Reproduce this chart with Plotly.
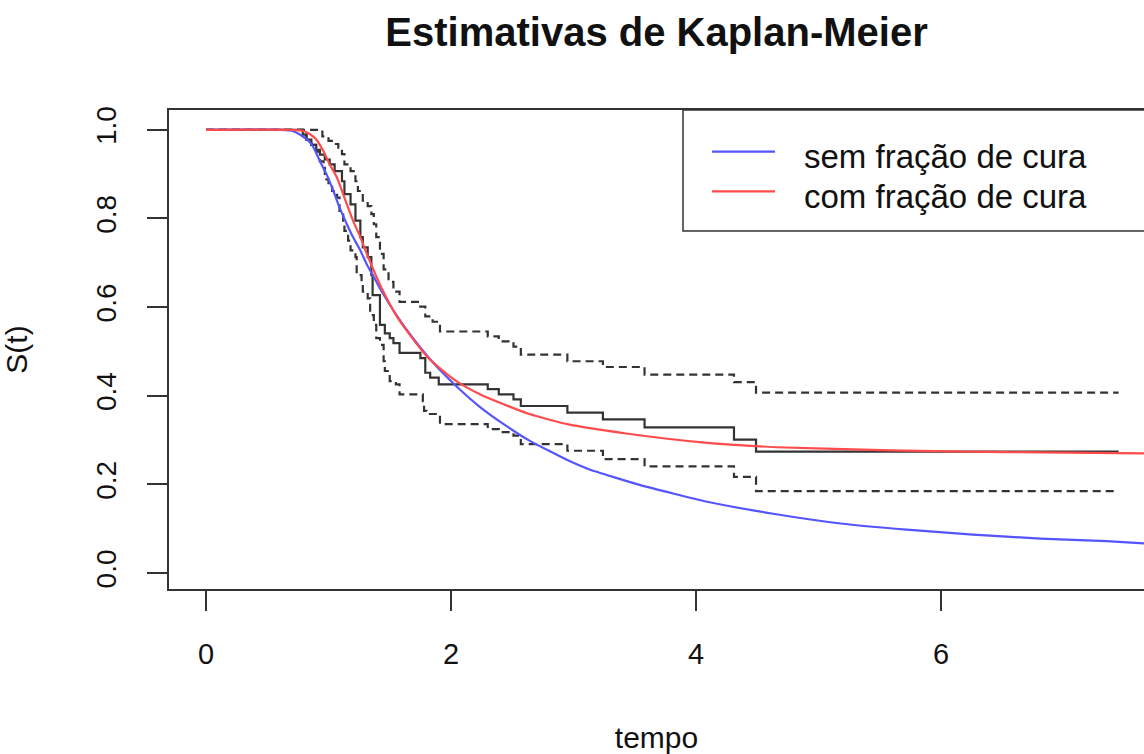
import plotly.graph_objects as go

# ---------------- data ----------------
km_time = [0, 0.79, 0.82, 0.86, 0.90, 0.93, 0.97, 1.01, 1.05, 1.11, 1.13, 1.18, 1.22, 1.26, 1.28,
           1.32, 1.35, 1.36, 1.42, 1.46, 1.50, 1.53, 1.58, 1.75, 1.79, 1.83, 1.90, 2.30, 2.39,
           2.51, 2.57, 2.95, 3.24, 3.58, 4.31, 4.49, 7.45]
km_surv = [1.0, 0.989, 0.978, 0.966, 0.955, 0.944, 0.933, 0.922, 0.907, 0.884, 0.855, 0.832, 0.795,
           0.758, 0.735, 0.713, 0.672, 0.627, 0.560, 0.541, 0.530, 0.519, 0.497, 0.485, 0.452,
           0.441, 0.426, 0.415, 0.403, 0.392, 0.377, 0.362, 0.347, 0.329, 0.301, 0.274, 0.274]

upper_time = [0, 0.95, 1.00, 1.04, 1.08, 1.11, 1.13, 1.18, 1.22, 1.24, 1.28, 1.32, 1.35, 1.37,
              1.39, 1.42, 1.45, 1.49, 1.53, 1.58, 1.73, 1.79, 1.85, 1.91, 2.30, 2.39, 2.51, 2.57,
              2.95, 3.24, 3.58, 4.31, 4.49, 7.45]
upper_surv = [1.0, 0.985, 0.975, 0.968, 0.960, 0.945, 0.922, 0.907, 0.884, 0.862, 0.840, 0.828,
              0.810, 0.787, 0.758, 0.720, 0.685, 0.657, 0.635, 0.612, 0.601, 0.579, 0.567, 0.545,
              0.534, 0.523, 0.511, 0.493, 0.478, 0.465, 0.448, 0.431, 0.407, 0.407]

lower_time = [0, 0.79, 0.82, 0.86, 0.90, 0.93, 0.96, 0.97, 1.00, 1.03, 1.07, 1.09, 1.12, 1.13,
              1.16, 1.18, 1.22, 1.23, 1.27, 1.28, 1.32, 1.34, 1.37, 1.39, 1.42, 1.45, 1.46, 1.50,
              1.55, 1.58, 1.77, 1.78, 1.80, 1.91, 2.30, 2.39, 2.51, 2.57, 2.95, 3.24, 3.58, 4.31,
              4.49, 7.45]
lower_surv = [1.0, 0.989, 0.978, 0.966, 0.951, 0.929, 0.914, 0.888, 0.877, 0.862, 0.847, 0.817,
              0.795, 0.772, 0.750, 0.728, 0.713, 0.672, 0.657, 0.635, 0.620, 0.582, 0.560, 0.530,
              0.515, 0.478, 0.456, 0.433, 0.426, 0.403, 0.388, 0.366, 0.359, 0.336, 0.325, 0.318,
              0.310, 0.291, 0.276, 0.257, 0.241, 0.217, 0.185, 0.185]

blue_time = [0, 0.62, 0.70, 0.77, 0.84, 0.88, 0.93, 0.985, 1.04, 1.09, 1.15, 1.20, 1.26, 1.31,
             1.37, 1.42, 1.56, 1.69, 1.80, 1.91, 2.05, 2.24, 2.43, 2.64, 2.95, 3.12, 3.54, 4.09,
             4.63, 5.18, 5.72, 6.26, 6.81, 7.35, 7.66]
blue_surv = [1.0, 1.0, 0.998, 0.989, 0.974, 0.959, 0.929, 0.899, 0.862, 0.825, 0.787, 0.758,
             0.728, 0.698, 0.668, 0.642, 0.580, 0.530, 0.492, 0.458, 0.420, 0.374, 0.336, 0.299,
             0.255, 0.235, 0.199, 0.161, 0.134, 0.112, 0.098, 0.087, 0.078, 0.072, 0.067]

red_time = [0, 0.70, 0.79, 0.85, 0.90, 0.96, 1.01, 1.07, 1.11, 1.15, 1.20, 1.26, 1.31, 1.37,
            1.43, 1.56, 1.69, 1.80, 1.91, 2.05, 2.24, 2.43, 2.64, 2.95, 3.43, 4.05, 4.66, 5.59,
            6.52, 7.66]
red_surv = [1.0, 1.0, 0.998, 0.99, 0.978, 0.951, 0.922, 0.892, 0.862, 0.832, 0.795, 0.758, 0.722,
            0.682, 0.645, 0.578, 0.528, 0.490, 0.462, 0.432, 0.403, 0.381, 0.359, 0.336, 0.315,
            0.295, 0.284, 0.277, 0.273, 0.270]

legend_labels = ["sem fração de cura", "com fração de cura"]
x_ticks = [0, 2, 4, 6]
y_ticks = [0.0, 0.2, 0.4, 0.6, 0.8, 1.0]

# ---------------- styles ----------------
BLUE = "rgb(85,85,255)"
RED = "rgb(255,75,75)"
DARK = "#333333"
TXT = "#111111"
FONT = "Liberation Sans, Arial, sans-serif"

W, H = 1144, 754
ML, MT = 169, 110
MB = H - 593
MR = 0

fig = go.Figure()
fig.add_trace(go.Scatter(x=km_time, y=km_surv, mode="lines", line=dict(shape="hv", color=DARK, width=2.2),
                         showlegend=False, hoverinfo="skip"))
fig.add_trace(go.Scatter(x=upper_time, y=upper_surv, mode="lines",
                         line=dict(shape="hv", color=DARK, width=2.2, dash="8px,5px"),
                         showlegend=False, hoverinfo="skip"))
fig.add_trace(go.Scatter(x=lower_time, y=lower_surv, mode="lines",
                         line=dict(shape="hv", color=DARK, width=2.2, dash="8px,5px"),
                         showlegend=False, hoverinfo="skip"))
fig.add_trace(go.Scatter(x=blue_time, y=blue_surv, mode="lines", name=legend_labels[0],
                         line=dict(shape="spline", smoothing=0.5, color=BLUE, width=2.2),
                         showlegend=False, hoverinfo="skip"))
fig.add_trace(go.Scatter(x=red_time, y=red_surv, mode="lines", name=legend_labels[1],
                         line=dict(shape="spline", smoothing=0.5, color=RED, width=2.2),
                         showlegend=False, hoverinfo="skip"))

pw = W - ML - MR
ph = H - MT - MB


def px(xp):
    """screen pixel x -> paper coordinate"""
    return (xp - ML) / pw


def py(yp):
    """screen pixel y -> paper coordinate"""
    return 1 - (yp - MT) / ph


# legend drawn as an R-style box
shapes = [
    dict(type="rect", xref="paper", yref="paper", x0=px(683), x1=px(1190), y0=py(232), y1=py(110),
         line=dict(color=DARK, width=1.5), fillcolor="white", layer="above"),
]
annotations = []
for i, (lab, col) in enumerate(zip(legend_labels, [BLUE, RED])):
    yc = 152 + 40 * i
    shapes.append(dict(type="line", xref="paper", yref="paper", x0=px(712), x1=px(775),
                       y0=py(yc), y1=py(yc), line=dict(color=col, width=2.2), layer="above"))
    annotations.append(dict(xref="paper", yref="paper", x=px(802), y=py(yc + 5), text=lab,
                            showarrow=False, xanchor="left", yanchor="middle",
                            font=dict(family=FONT, size=33, color=TXT)))

fig.update_layout(
    width=W, height=H,
    margin=dict(l=ML, r=MR, t=MT, b=MB, pad=0),
    paper_bgcolor="white", plot_bgcolor="white",
    font=dict(family=FONT, color=TXT),
    title=dict(text="<b>Estimativas de Kaplan-Meier</b>", xref="paper", x=0.5, xanchor="center",
               yref="container", y=1 - 32 / H, yanchor="middle",
               font=dict(family=FONT, size=40, color=TXT)),
    xaxis=dict(range=[-0.302, 7.657], tickvals=x_ticks, ticktext=[str(v) for v in x_ticks],
               showgrid=False, zeroline=False, showline=True, mirror=True, linecolor=DARK, linewidth=1.5,
               ticks="outside", ticklen=20, tickwidth=1.5, tickcolor=DARK, ticklabelstandoff=18,
               tickfont=dict(family=FONT, size=29, color=TXT),
               title=dict(text="tempo", font=dict(family=FONT, size=30, color=TXT), standoff=63)),
    yaxis=dict(range=[-0.0358, 1.0447], tickvals=y_ticks, ticktext=["%.1f" % v for v in y_ticks],
               showgrid=False, zeroline=False, showline=True, mirror=False, linecolor=DARK, linewidth=1.5,
               ticks="outside", ticklen=20, tickwidth=1.5, tickcolor=DARK, tickangle=-90,
               ticklabelstandoff=20,
               tickfont=dict(family=FONT, size=28, color=TXT),
               title=dict(text="S(t)", font=dict(family=FONT, size=30, color=TXT), standoff=56)),
    shapes=shapes,
    annotations=annotations,
)

fig.write_html(
    "out.html",
    config={"displayModeBar": False},
    post_script="document.body.style.margin='0';"
                "document.body.style.overflow='hidden';"
                "document.documentElement.style.overflow='hidden';",
)
